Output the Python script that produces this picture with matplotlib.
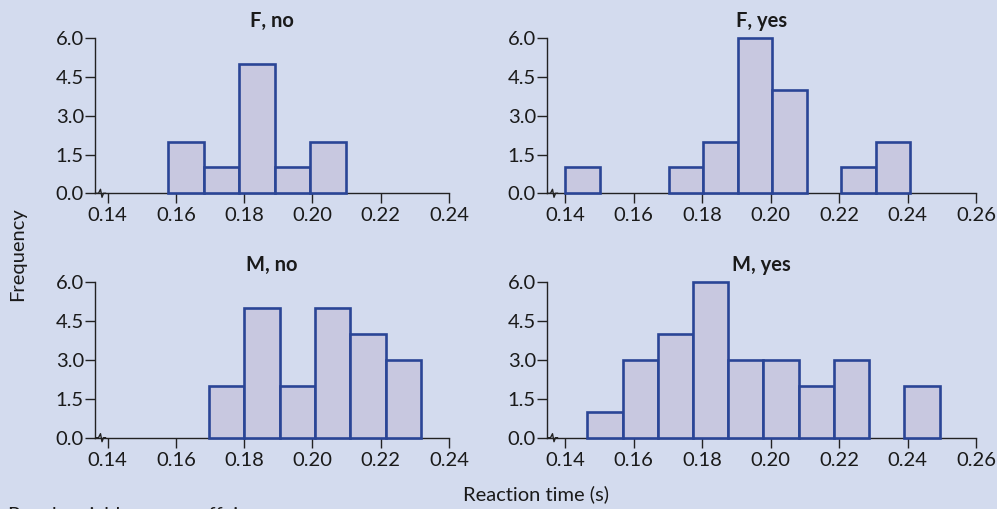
import matplotlib
matplotlib.use("Agg")
import matplotlib.pyplot as plt
import numpy as np

plt.rcParams['font.family'] = ['Lato', 'DejaVu Sans']

# ---- data ----
titles = ["F, no", "F, yes", "M, no", "M, yes"]
bin_starts = [0.1577, 0.1400, 0.1697, 0.1465]
bin_widths = [0.0104, 0.01007, 0.01035, 0.01028]
counts_f_no = [2, 1, 5, 1, 2]
counts_f_yes = [1, 0, 0, 1, 2, 6, 4, 0, 1, 2]
counts_m_no = [2, 5, 2, 5, 4, 3]
counts_m_yes = [1, 3, 4, 6, 3, 3, 2, 3, 0, 2]
all_counts = [counts_f_no, counts_f_yes, counts_m_no, counts_m_yes]
x_ticks_left = [0.14, 0.16, 0.18, 0.20, 0.22, 0.24]
x_ticks_right = [0.14, 0.16, 0.18, 0.20, 0.22, 0.24, 0.26]
y_ticks = [0.0, 1.5, 3.0, 4.5, 6.0]

BG = '#D3DBEE'
FILL = '#C8C8E0'
EDGE = '#2A4596'
AX = '#222222'
TXT = '#1a1a1a'
FS = 14.5

W, H = 997, 509
fig = plt.figure(figsize=(W / 100, H / 100), dpi=100, facecolor=BG)

# axes rectangles in pixels: (left, right, top, bottom)
boxes = [(95, 449, 38.3, 193.3), (547, 976.3, 38.3, 193.3),
         (95, 449, 282.3, 437.7), (547, 976.3, 282.3, 437.7)]
xlims = [(0.1363, 0.24), (0.13474, 0.26), (0.1363, 0.24), (0.13474, 0.26)]
xticks_list = [x_ticks_left, x_ticks_right, x_ticks_left, x_ticks_right]

for i in range(4):
    l, r, t, b = boxes[i]
    ax = fig.add_axes([l / W, 1 - b / H, (r - l) / W, (b - t) / H])
    ax.set_facecolor(BG)
    counts = all_counts[i]
    lefts = [bin_starts[i] + k * bin_widths[i] for k in range(len(counts))]
    lv = [x for x, c in zip(lefts, counts) if c > 0]
    cv = [c for c in counts if c > 0]
    ax.bar(lv, cv, width=bin_widths[i], align='edge', color=FILL,
           edgecolor=EDGE, linewidth=1.9, clip_on=False, zorder=3)
    ax.set_xlim(*xlims[i])
    ax.set_ylim(0, 6)
    ax.set_xticks(xticks_list[i])
    ax.set_xticklabels([f"{v:.2f}" for v in xticks_list[i]])
    ax.set_yticks(y_ticks)
    ax.set_yticklabels([f"{v:.1f}" for v in y_ticks])
    for s in ['top', 'right']:
        ax.spines[s].set_visible(False)
    for s in ['left', 'bottom']:
        ax.spines[s].set_color(AX)
        ax.spines[s].set_linewidth(1.0)
    ax.tick_params(axis='both', direction='out', length=7, width=1.0,
                   color=AX, labelsize=FS, labelcolor=TXT)
    ax.tick_params(axis='x', pad=3)
    ax.tick_params(axis='y', pad=1)
    ax.set_title(titles[i], fontsize=FS, fontweight='bold', pad=8,
                 color=TXT)
    # axis break zigzag on x-axis near y-axis
    wpx = r - l
    hpx = b - t
    zx = np.array([0, 2, 4, 5.5, 7, 9]) + 1.5
    zy = np.array([0, 0, 4, -4, 0, 0])
    ax.plot(zx / wpx, zy / hpx, transform=ax.transAxes, color=AX,
            lw=1.0, clip_on=False, zorder=5)

fig.text(18 / W, 1 - 254 / H, "Frequency", rotation=90, ha='center',
         va='center', fontsize=FS, color=TXT)
fig.text(536 / W, 1 - 494 / H, "Reaction time (s)", ha='center',
         va='center', fontsize=FS, color=TXT)
fig.text(8 / W, 1 - 506 / H, "Panel variables: sex, caffeine", ha='left',
         va='top', fontsize=FS, color=TXT)

fig.savefig("out.png", dpi=100, facecolor=BG)
